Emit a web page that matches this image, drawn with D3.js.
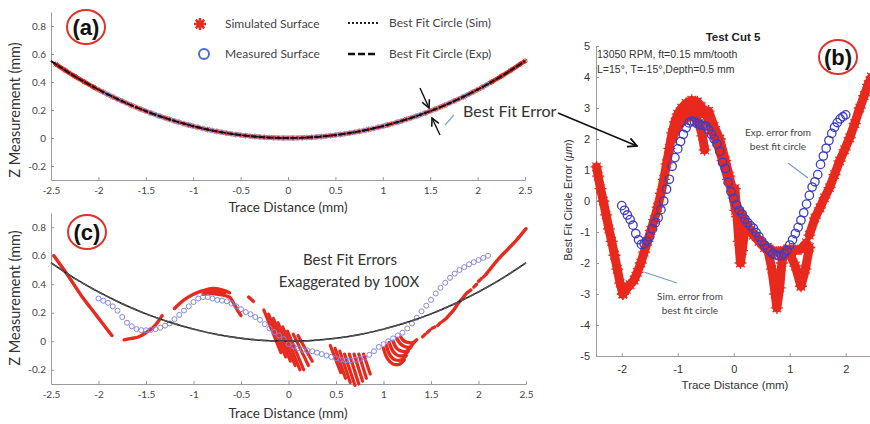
<!DOCTYPE html>
<html><head><meta charset="utf-8">
<script src="https://cdn.jsdelivr.net/npm/d3@7"></script>
<style>body{margin:0;background:#fff;} svg{display:block;}</style>
</head><body><svg id="chart" width="870" height="424"></svg>
<script>
// ---------------- DATA ----------------
// Best fit circle (mm) sampled along the trace
const circX = [-2.5,-2.25,-2,-1.75,-1.5,-1.25,-1,-0.75,-0.5,-0.25,0,0.25,0.5,0.75,1,1.25,1.5,1.75,2,2.25,2.5];
const circZSim = [0.550,0.441,0.346,0.263,0.192,0.133,0.085,0.047,0.021,0.005,0,0.005,0.021,0.047,0.085,0.133,0.192,0.263,0.346,0.441,0.550];
const circZExp = [0.550,0.441,0.346,0.263,0.192,0.133,0.085,0.047,0.021,0.005,0,0.005,0.021,0.047,0.085,0.133,0.192,0.263,0.346,0.441,0.550];

// Panel (a) simulated surface (mm)
const simAX = [-2.45,-2.35,-2.25,-2.15,-2.05,-1.95,-1.85,-1.75,-1.65,-1.55,-1.45,-1.35,-1.25,-1.15,-1.05,-0.95,-0.85,-0.75,-0.65,-0.55,-0.45,-0.35,-0.25,-0.15,-0.05,0.05,0.15,0.25,0.35,0.45,0.55,0.65,0.75,0.85,0.95,1.05,1.15,1.25,1.35,1.45,1.55,1.65,1.75,1.85,1.95,2.05,2.15,2.25,2.35,2.45,2.5];
const simAZ = [0.527,0.483,0.441,0.402,0.363,0.328,0.294,0.263,0.233,0.205,0.179,0.155,0.133,0.112,0.093,0.076,0.061,0.047,0.035,0.025,0.017,0.010,0.005,0.002,0.000,0.000,0.002,0.005,0.010,0.017,0.025,0.035,0.047,0.061,0.076,0.093,0.112,0.133,0.155,0.179,0.205,0.233,0.263,0.294,0.328,0.363,0.402,0.441,0.483,0.527,0.550];

// Measured trace positions (mm)
const measX = [-2.00,-1.95,-1.90,-1.85,-1.80,-1.75,-1.70,-1.65,-1.60,-1.55,-1.50,-1.45,-1.40,-1.35,-1.30,-1.25,-1.20,-1.15,-1.10,-1.05,-1.00,-0.95,-0.90,-0.85,-0.80,-0.75,-0.70,-0.65,-0.60,-0.55,-0.50,-0.45,-0.40,-0.35,-0.30,-0.25,-0.20,-0.15,-0.10,-0.05,0.00,0.05,0.10,0.15,0.20,0.25,0.30,0.35,0.40,0.45,0.50,0.55,0.60,0.65,0.70,0.75,0.80,0.85,0.90,0.95,1.00,1.05,1.10,1.15,1.20,1.25,1.30,1.35,1.40,1.45,1.50,1.55,1.60,1.65,1.70,1.75,1.80,1.85,1.90,1.95,2.00,2.05,2.10];
// Panel (a) measured surface (mm)
const measZA = [0.346,0.328,0.311,0.294,0.278,0.263,0.248,0.233,0.219,0.205,0.192,0.179,0.167,0.155,0.144,0.133,0.122,0.112,0.102,0.093,0.084,0.076,0.068,0.061,0.054,0.047,0.041,0.035,0.030,0.025,0.021,0.017,0.013,0.010,0.008,0.005,0.003,0.002,0.001,0.000,0.000,0.000,0.001,0.002,0.003,0.005,0.008,0.010,0.013,0.017,0.021,0.025,0.030,0.035,0.041,0.047,0.054,0.061,0.068,0.076,0.084,0.093,0.102,0.112,0.122,0.133,0.144,0.155,0.167,0.179,0.192,0.205,0.219,0.233,0.248,0.263,0.278,0.294,0.311,0.328,0.346,0.363,0.382];
// Panel (c) measured surface, errors exaggerated 100X (mm)
const measZC = [0.30,0.285,0.27,0.245,0.215,0.17,0.13,0.105,0.085,0.078,0.077,0.08,0.085,0.095,0.11,0.125,0.155,0.185,0.215,0.245,0.275,0.30,0.31,0.31,0.30,0.29,0.285,0.28,0.265,0.245,0.225,0.205,0.19,0.17,0.15,0.12,0.09,0.065,0.04,0.015,-0.02,-0.035,-0.05,-0.06,-0.065,-0.07,-0.08,-0.09,-0.10,-0.11,-0.12,-0.13,-0.135,-0.135,-0.13,-0.125,-0.115,-0.095,-0.07,-0.04,-0.02,0.0,0.02,0.04,0.06,0.09,0.125,0.165,0.21,0.25,0.29,0.335,0.375,0.41,0.445,0.475,0.50,0.52,0.54,0.555,0.57,0.585,0.60];
// Panel (b) measured best-fit error (um), x = -2.00 .. 2.00
const measErrB = [-0.15,-0.30,-0.45,-0.60,-0.78,-1.05,-1.25,-1.40,-1.38,-1.30,-1.15,-0.90,-0.70,-0.54,-0.28,0.00,0.38,0.70,1.12,1.40,1.68,1.92,2.15,2.36,2.52,2.58,2.55,2.50,2.46,2.44,2.42,2.30,2.15,2.00,1.84,1.60,1.25,1.05,0.60,0.30,0.08,-0.12,-0.30,-0.42,-0.58,-0.70,-0.80,-0.88,-1.02,-1.15,-1.30,-1.42,-1.53,-1.62,-1.70,-1.74,-1.77,-1.76,-1.70,-1.60,-1.42,-1.25,-1.05,-0.85,-0.62,-0.38,-0.10,0.18,0.45,0.62,0.85,1.18,1.45,1.70,1.95,2.18,2.38,2.53,2.65,2.72,2.78];

// Panel (b) simulated best-fit error strands [x (mm), err (um)]
const simB1 = [[-2.45,1.1],[-2.42,0.8],[-2.38,0.4],[-2.33,0.0],[-2.28,-0.45],[-2.23,-0.9],[-2.18,-1.3],[-2.13,-1.75],[-2.08,-2.2],[-2.03,-2.65],[-1.98,-3.0]];
const simB2 = [[-1.98,-3.0],[-1.92,-2.85],[-1.85,-2.7],[-1.78,-2.55],[-1.72,-2.3],[-1.66,-2.0],[-1.6,-1.65],[-1.54,-1.3],[-1.48,-0.95],[-1.42,-0.6],[-1.36,-0.2],[-1.3,0.25],[-1.25,0.7],[-1.2,1.2],[-1.15,1.7],[-1.1,2.2],[-1.05,2.55],[-1.0,2.8],[-0.93,3.0],[-0.85,3.15],[-0.75,3.25],[-0.65,3.2],[-0.58,3.05]];
const simB2a = [[-1.0,2.65],[-0.9,2.9],[-0.8,3.0],[-0.7,2.95],[-0.6,2.8]];
const simB2b = [[-1.1,2.0],[-1.0,2.4],[-0.9,2.6],[-0.8,2.75],[-0.7,2.7],[-0.62,2.5],[-0.56,2.1],[-0.52,1.65]];
const simB3 = [[-0.5,2.85],[-0.4,2.3],[-0.3,1.9],[-0.2,1.3],[-0.1,0.7],[0.0,0.1],[0.1,-0.35],[0.2,-0.7],[0.3,-0.95],[0.4,-1.15],[0.5,-1.35],[0.6,-1.5],[0.7,-1.6],[0.8,-1.65],[0.9,-1.6],[1.0,-1.55],[1.1,-1.6],[1.2,-1.55],[1.3,-1.35]];
const simB3L = [[-0.45,2.9],[-0.35,2.4],[-0.25,2.0],[-0.15,1.3],[-0.08,0.8],[-0.02,0.3],[0.03,-0.3]];
const simB3b = [[0.15,-0.5],[0.25,-0.85],[0.35,-1.1],[0.45,-1.3],[0.55,-1.5],[0.65,-1.7]];
const simB4 = [[0.02,0.4],[0.06,-0.5],[0.09,-1.3],[0.12,-2.0],[0.15,-1.6],[0.2,-0.9]];
const simB5 = [[0.6,-1.5],[0.68,-2.2],[0.74,-3.0],[0.77,-3.45],[0.82,-2.8],[0.86,-2.0],[0.9,-1.6]];
const simB6 = [[1.0,-1.7],[1.1,-2.1],[1.2,-2.75],[1.28,-2.2],[1.35,-1.5]];
const simB7 = [[1.35,-1.1],[1.45,-0.55],[1.54,-0.22],[1.62,0.1],[1.71,0.43],[1.8,0.85],[1.89,1.29],[1.98,1.65],[2.07,2.04],[2.16,2.5],[2.25,3.0],[2.33,3.4],[2.4,3.76],[2.46,4.0]];

// Panel (c) simulated surface, errors exaggerated 100X: polylines [x (mm), z (mm)]
const simC1 = [[-2.47,0.60],[-2.32,0.46],[-2.18,0.32],[-2.02,0.18],[-1.86,0.04]];
const simC2 = [[-1.73,0.01],[-1.65,0.02],[-1.58,0.03],[-1.5,0.06],[-1.42,0.10],[-1.37,0.14],[-1.33,0.18]];
const simC3 = [[-1.2,0.23],[-1.1,0.29],[-1.0,0.33],[-0.9,0.355],[-0.8,0.37],[-0.7,0.36],[-0.62,0.34]];
const simC3b = [[-0.9,0.33],[-0.8,0.335],[-0.7,0.325],[-0.62,0.31],[-0.58,0.27],[-0.54,0.22],[-0.5,0.18]];
const simC4 = [[-0.42,0.31],[-0.37,0.28]];
const simC5 = [[1.62,0.14],[1.66,0.16],[1.7,0.19],[1.74,0.22],[1.78,0.26],[1.83,0.30],[1.88,0.34],[1.92,0.36]];
const simC6 = [[2.08,0.47],[2.2,0.57],[2.3,0.64],[2.4,0.71],[2.5,0.79]];
const simCHook1 = [[1.0,-0.05],[1.04,-0.12],[1.1,-0.16],[1.17,-0.16],[1.22,-0.13]];
const simCHook2 = [[1.03,-0.03],[1.07,-0.10],[1.12,-0.13],[1.19,-0.13],[1.24,-0.10]];
const simCHook3 = [[1.06,-0.01],[1.1,-0.07],[1.15,-0.10],[1.21,-0.10],[1.26,-0.07]];
const simCHook4 = [[1.1,0.0],[1.14,-0.05],[1.19,-0.07],[1.24,-0.07],[1.29,-0.04]];
const simCHook5 = [[1.14,0.02],[1.18,-0.02],[1.23,-0.04],[1.28,-0.04],[1.32,-0.01]];
const simCHook6 = [[1.18,0.03],[1.22,0.0],[1.27,-0.01],[1.31,-0.01],[1.35,0.01]];
// straight strips [x0, z0, x1, z1]
const simCStrips = [
  [-0.26,0.22,-0.08,-0.08],[-0.21,0.19,-0.03,-0.11],[-0.16,0.16,0.02,-0.14],[-0.11,0.13,0.07,-0.17],
  [-0.06,0.10,0.12,-0.20],[-0.01,0.07,0.16,-0.20],[0.05,0.05,0.21,-0.17],[0.10,0.04,0.25,-0.14],
  [0.44,-0.03,0.55,-0.22],[0.49,-0.05,0.60,-0.26],[0.54,-0.07,0.65,-0.29],[0.59,-0.09,0.70,-0.31],
  [0.64,-0.09,0.74,-0.30],[0.69,-0.09,0.78,-0.28],[0.74,-0.09,0.82,-0.26],[0.79,-0.09,0.86,-0.23],
  [1.41,0.03,1.44,0.05],[1.46,0.06,1.49,0.08],[1.51,0.09,1.54,0.10],[1.57,0.11,1.60,0.13],
  [1.95,0.38,1.98,0.40],[2.0,0.42,2.03,0.44],[2.05,0.45,2.08,0.47]
];

// Tick values
const xTicksAC = [-2.5,-2,-1.5,-1,-0.5,0,0.5,1,1.5,2,2.5];
const yTicksAC = [-0.2,0,0.2,0.4,0.6,0.8];
const xTicksB = [-2,-1,0,1,2];
const yTicksB = [-5,-4,-3,-2,-1,0,1,2,3,4,5];

// ---------------- DRAWING ----------------
const svg = d3.select('#chart');
const RED = '#e8291e', AX = '#9a9a9a';
const CAL = 'Lato, "Open Sans", sans-serif';
const ARI = '"Liberation Sans", Arial, sans-serif';
const fmt = d => (d < 0 ? '-' : '') + String(Math.abs(d));

function aster(r){ const d = r*0.7071; return `M${-r},0L${r},0M0,${-r}L0,${r}M${-d},${-d}L${d},${d}M${-d},${d}L${d},${-d}`; }

const defs = svg.append('defs');
defs.append('marker').attr('id','arr').attr('viewBox','0 0 10 10').attr('refX',9).attr('refY',5)
  .attr('markerWidth',7).attr('markerHeight',7).attr('orient','auto-start-reverse')
  .append('path').attr('d','M1,1L9,5L1,9').attr('fill','none').attr('stroke','#111').attr('stroke-width',1.6);

function styleAxis(g, font, size, col){
  g.select('.domain').attr('stroke', AX).attr('stroke-width', 1);
  g.selectAll('.tick line').attr('stroke', AX);
  g.selectAll('.tick text').attr('font-family', font).attr('font-size', size).attr('fill', col);
}

const xA = d3.scaleLinear([-2.5, 2.5], [51, 525]);
const yA = d3.scaleLinear([-0.3, 0.9], [180, 12]);
const xC = d3.scaleLinear([-2.5, 2.5], [51, 526]);
const yC = d3.scaleLinear([-0.3, 0.9], [384, 213]);
const xB = d3.scaleLinear([-2.46, 2.46], [596, 871.5]);
const yB = d3.scaleLinear([-5, 5], [356, 46]);

function drawAxesAC(xs, ys, yBase){
  const gx = svg.append('g').attr('transform', `translate(0,${yBase})`)
    .call(d3.axisBottom(xs).tickValues(xTicksAC).tickFormat(fmt).tickSizeInner(-3).tickSizeOuter(0).tickPadding(7));
  styleAxis(gx, CAL, 10, '#444');
  const gy = svg.append('g').attr('transform', `translate(${xs.range()[0]},0)`)
    .call(d3.axisLeft(ys).tickValues(yTicksAC).tickFormat(fmt).tickSizeInner(-3).tickSizeOuter(0).tickPadding(5));
  styleAxis(gy, CAL, 10, '#444');
}
drawAxesAC(xA, yA, 180);
drawAxesAC(xC, yC, 384);

{
  const gx = svg.append('g').attr('transform', 'translate(0,356)')
    .call(d3.axisBottom(xB).tickValues(xTicksB).tickFormat(fmt).tickSizeInner(-3).tickSizeOuter(0).tickPadding(9));
  styleAxis(gx, ARI, 11, '#333');
  const gy = svg.append('g').attr('transform', 'translate(596,0)')
    .call(d3.axisLeft(yB).tickValues(yTicksB).tickFormat(fmt).tickSizeInner(-3).tickSizeOuter(0).tickPadding(6));
  styleAxis(gy, ARI, 11, '#333');
}

const zip = (xs, ys) => xs.map((x, i) => [x, ys[i]]);

// ---- (a) simulated surface
const simA = zip(simAX, simAZ);
svg.append('path').attr('d', d3.line().x(d => xA(d[0])).y(d => yA(d[1])).curve(d3.curveNatural)(simA))
  .attr('fill','none').attr('stroke',RED).attr('stroke-width',4.5);
svg.append('g').selectAll('path').data(simA).join('path')
  .attr('transform', d => `translate(${xA(d[0])},${yA(d[1])})`).attr('d', aster(2.8))
  .attr('stroke', RED).attr('stroke-width', 1).attr('fill','none');
// (a) measured
svg.append('g').selectAll('circle').data(zip(measX, measZA)).join('circle')
  .attr('cx', d => xA(d[0])).attr('cy', d => yA(d[1])).attr('r', 2.4)
  .attr('fill','none').attr('stroke','#a3a9e6').attr('stroke-width',1);
// (a) best fit circles
svg.append('path').attr('d', d3.line().x(d => xA(d[0])).y(d => yA(d[1])).curve(d3.curveNatural)(zip(circX, circZSim)))
  .attr('fill','none').attr('stroke','#111').attr('stroke-width',1.6).attr('stroke-dasharray','1.5,1.5');
svg.append('path').attr('d', d3.line().x(d => xA(d[0])).y(d => yA(d[1])).curve(d3.curveNatural)(zip(circX, circZExp)))
  .attr('fill','none').attr('stroke','#111').attr('stroke-width',1.9).attr('stroke-dasharray','6,2');

// ---- (c) simulated surface x100
const simCLines = [simC1, simC2, simC3, simC3b, simC4, simC5, simC6, simCHook1, simCHook2, simCHook3, simCHook4, simCHook5, simCHook6];
const gC = svg.append('g');
gC.selectAll('path.l').data(simCLines).join('path').attr('class','l')
  .attr('d', d => d3.line().x(p => xC(p[0])).y(p => yC(p[1])).curve(d3.curveCatmullRom)(d))
  .attr('fill','none').attr('stroke',RED).attr('stroke-width',3.4).attr('stroke-linecap','round').attr('stroke-linejoin','round');
gC.selectAll('line.s').data(simCStrips).join('line').attr('class','s')
  .attr('x1', d => xC(d[0])).attr('y1', d => yC(d[1])).attr('x2', d => xC(d[2])).attr('y2', d => yC(d[3]))
  .attr('stroke',RED).attr('stroke-width',3.2).attr('stroke-linecap','round');
gC.append('path').attr('d', d3.line().x(p => xC(p[0])).y(p => yC(p[1])).curve(d3.curveCatmullRom)([[-0.88,0.35],[-0.78,0.355],[-0.68,0.34]]))
  .attr('fill','none').attr('stroke',RED).attr('stroke-width',5).attr('stroke-linecap','round');
// (c) measured
svg.append('g').selectAll('circle').data(zip(measX, measZC)).join('circle')
  .attr('cx', d => xC(d[0])).attr('cy', d => yC(d[1])).attr('r', 2.5)
  .attr('fill','none').attr('stroke','#8587dd').attr('stroke-width',1);
// (c) best fit circles
svg.append('path').attr('d', d3.line().x(d => xC(d[0])).y(d => yC(d[1])).curve(d3.curveNatural)(zip(circX, circZSim)))
  .attr('fill','none').attr('stroke','#1a1a1a').attr('stroke-width',1.5);
svg.append('path').attr('d', d3.line().x(d => xC(d[0])).y(d => yC(d[1])).curve(d3.curveNatural)(zip(circX, circZExp)))
  .attr('fill','none').attr('stroke','#555').attr('stroke-width',1.6).attr('stroke-dasharray','7,2');

// ---- (b) simulated error
const simBLines = [simB1, simB2, simB2a, simB2b, simB3, simB3L, simB3b, simB4, simB5, simB6, simB7];
const gB = svg.append('g');
gB.selectAll('path.band').data(simBLines).join('path').attr('class','band')
  .attr('d', d => d3.line().x(p => xB(p[0])).y(p => yB(p[1]))(d))
  .attr('fill','none').attr('stroke',RED).attr('stroke-width',9).attr('stroke-linejoin','round').attr('stroke-linecap','round');
gB.selectAll('path.ast').data(simBLines.flat()).join('path').attr('class','ast')
  .attr('transform', d => `translate(${xB(d[0])},${yB(d[1])})`).attr('d', aster(6))
  .attr('stroke', RED).attr('stroke-width', 1.3).attr('fill','none');
// (b) measured error
svg.append('g').selectAll('circle').data(zip(measX.slice(0, measErrB.length), measErrB)).join('circle')
  .attr('cx', d => xB(d[0])).attr('cy', d => yB(d[1])).attr('r', 4.2)
  .attr('fill','none').attr('stroke','#3d3dc4').attr('stroke-width',1.3);

// ---------------- TEXT & ANNOTATIONS ----------------
function txt(x, y, s, o = {}){
  const t = svg.append('text').attr('x', x).attr('y', y).text(s)
    .attr('font-family', o.font || CAL).attr('font-size', o.size || 12)
    .attr('fill', o.fill || '#333').attr('text-anchor', o.anchor || 'start');
  if (o.weight) t.attr('font-weight', o.weight);
  if (o.rotate) t.attr('transform', `rotate(-90,${x},${y})`);
  return t;
}
txt(288, 212, 'Trace Distance (mm)', {size: 13.5, anchor: 'middle'});
txt(288, 418, 'Trace Distance (mm)', {size: 13.5, anchor: 'middle'});
txt(20, 110, 'Z Measurement (mm)', {size: 14.5, anchor: 'middle', rotate: true});
txt(20, 298, 'Z Measurement (mm)', {size: 14.5, anchor: 'middle', rotate: true});
txt(735, 389, 'Trace Distance (mm)', {font: ARI, size: 11.5, anchor: 'middle'});
{
  const t = svg.append('text').attr('transform','rotate(-90,572,200)').attr('x',572).attr('y',200)
    .attr('font-family', ARI).attr('font-size', 11).attr('fill','#333').attr('text-anchor','middle');
  t.append('tspan').text('Best Fit Circle Error (');
  t.append('tspan').attr('font-style','italic').text('\u03bcm');
  t.append('tspan').text(')');
}
txt(733, 41, 'Test Cut 5', {font: ARI, size: 11.5, anchor: 'middle', weight: 'bold', fill: '#222'});
txt(597, 58, '13050 RPM, ft=0.15 mm/tooth', {font: ARI, size: 10.5, fill: '#333'});
txt(597, 73, 'L=15\u00b0, T=-15\u00b0,Depth=0.5 mm', {font: ARI, size: 10.5, fill: '#333'});

function panelLabel(cx, cy, s){
  svg.append('ellipse').attr('cx', cx).attr('cy', cy).attr('rx', 19).attr('ry', 17)
    .attr('fill','#fff').attr('stroke','#e0322a').attr('stroke-width',2);
  txt(cx, cy + 8, s, {font: ARI, size: 22, anchor: 'middle', weight: 'bold', fill: '#111'});
}
panelLabel(86, 27, '(a)');
panelLabel(87, 232, '(c)');
panelLabel(838, 57, '(b)');

svg.append('path').attr('transform','translate(200,24)').attr('d', aster(6)).attr('stroke', RED).attr('stroke-width', 2.5).attr('fill','none');
txt(225, 28, 'Simulated Surface', {size: 12, fill: '#444'});
svg.append('circle').attr('cx', 204).attr('cy', 54).attr('r', 5).attr('fill','none').attr('stroke','#4a6cd0').attr('stroke-width', 2);
txt(225, 58, 'Measured Surface', {size: 12, fill: '#444'});
svg.append('line').attr('x1',348).attr('x2',378).attr('y1',23).attr('y2',23).attr('stroke','#222').attr('stroke-width',2).attr('stroke-dasharray','2,2');
txt(389, 27, 'Best Fit Circle (Sim)', {size: 12, fill: '#444'});
svg.append('line').attr('x1',348).attr('x2',378).attr('y1',54).attr('y2',54).attr('stroke','#111').attr('stroke-width',2.5).attr('stroke-dasharray','7,3');
txt(389, 58, 'Best Fit Circle (Exp)', {size: 12, fill: '#444'});

svg.append('line').attr('x1',420).attr('y1',88).attr('x2',429).attr('y2',108).attr('stroke','#111').attr('stroke-width',1.4).attr('marker-end','url(#arr)');
svg.append('line').attr('x1',440).attr('y1',135).attr('x2',432).attr('y2',118).attr('stroke','#111').attr('stroke-width',1.4).attr('marker-end','url(#arr)');
svg.append('line').attr('x1',445).attr('y1',125).attr('x2',454).attr('y2',115).attr('stroke','#7aa6dc').attr('stroke-width',1.2);
txt(463, 117, 'Best Fit Error', {size: 16, fill: '#333'});
svg.append('line').attr('x1',558).attr('y1',113).attr('x2',637).attr('y2',146).attr('stroke','#111').attr('stroke-width',1.6).attr('marker-end','url(#arr)');

txt(350, 265, 'Best Fit Errors', {size: 15, anchor: 'middle', fill: '#333'});
txt(349, 287, 'Exaggerated by 100X', {size: 15, anchor: 'middle', fill: '#333'});

txt(778, 136, 'Exp. error from', {size: 10, anchor: 'middle', fill: '#444'});
txt(778, 150, 'best fit circle', {size: 10, anchor: 'middle', fill: '#444'});
svg.append('line').attr('x1',788).attr('y1',163).attr('x2',808).attr('y2',178).attr('stroke','#6d9bd6').attr('stroke-width',1.2);
txt(690, 300, 'Sim. error from', {size: 10, anchor: 'middle', fill: '#444'});
txt(690, 314, 'best fit circle', {size: 10, anchor: 'middle', fill: '#444'});
svg.append('line').attr('x1',644).attr('y1',272).attr('x2',677).attr('y2',283).attr('stroke','#6d9bd6').attr('stroke-width',1.2);
</script></body></html>
